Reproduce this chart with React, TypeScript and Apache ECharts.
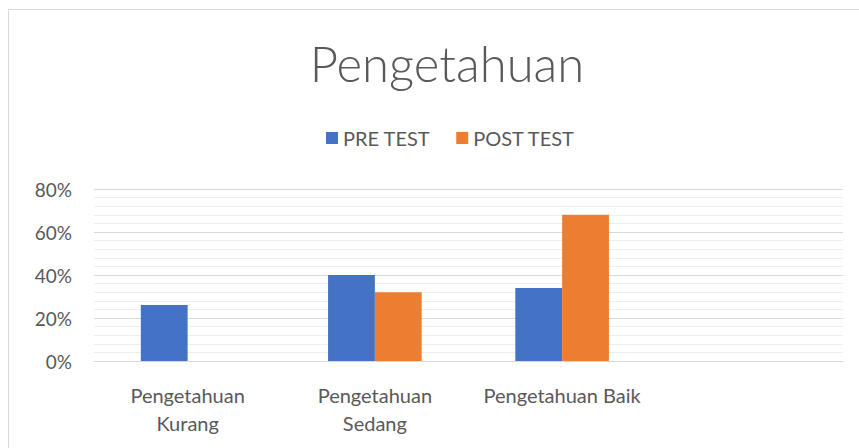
import React, { useEffect, useRef } from "react";
import * as echarts from "echarts";

const categories = ["Pengetahuan\nKurang", "Pengetahuan\nSedang", "Pengetahuan Baik", ""];
const preTest = [26, 40, 34, null];
const postTest = [0, 32, 68, null];
const seriesNames = ["PRE TEST", "POST TEST"];
const chartTitle = "Pengetahuan";

const FONT = "Lato, 'Open Sans', sans-serif";
const TXT = "#595959";

export default function App() {
  const ref = useRef<HTMLDivElement>(null);
  useEffect(() => {
    document.body.style.margin = "0";
    const chart = echarts.init(ref.current!, undefined, { renderer: "svg" });
    chart.setOption({
      animation: false,
      backgroundColor: "#ffffff",
      textStyle: { fontFamily: FONT },
      graphic: [
        {
          type: "rect",
          shape: { x: 8.5, y: 9.5, width: 900, height: 500 },
          style: { fill: "none", stroke: "#d9d9d9", lineWidth: 1 },
          silent: true,
        },
      ],
      title: {
        text: chartTitle,
        left: 442,
        textAlign: "center",
        top: 33,
        textStyle: { fontFamily: FONT, fontSize: 49, fontWeight: 300, color: TXT },
      },
      legend: {
        left: 321,
        top: 123,
        itemWidth: 12,
        itemHeight: 12,
        itemGap: 26,
        icon: "rect",
        textStyle: { fontFamily: FONT, fontSize: 20, color: TXT },
        data: seriesNames,
      },
      grid: { left: 94, right: 16, top: 189, bottom: 87, containLabel: false },
      xAxis: {
        type: "category",
        data: categories,
        axisLine: { show: true, lineStyle: { color: "#d9d9d9", width: 1 } },
        axisTick: { show: false },
        axisLabel: {
          fontFamily: FONT,
          fontSize: 20,
          color: TXT,
          margin: 20,
          lineHeight: 28,
          interval: 0,
        },
      },
      yAxis: {
        type: "value",
        min: 0,
        max: 80,
        interval: 20,
        axisLine: { show: false },
        axisTick: { show: false },
        axisLabel: {
          formatter: "{value}%",
          fontFamily: FONT,
          fontSize: 19,
          color: TXT,
          margin: 22,
        },
        splitLine: { show: true, lineStyle: { color: "#d9d9d9", width: 1 } },
        minorTick: { show: false, splitNumber: 5 },
        minorSplitLine: { show: true, lineStyle: { color: "#eeeeee", width: 1 } },
      },
      series: [
        {
          name: seriesNames[0],
          type: "bar",
          data: preTest,
          itemStyle: { color: "#4472C4" },
          barGap: "0%",
          barCategoryGap: "50%",
        },
        {
          name: seriesNames[1],
          type: "bar",
          data: postTest,
          itemStyle: { color: "#ED7D31" },
          barGap: "0%",
          barCategoryGap: "50%",
        },
      ],
    });
    return () => chart.dispose();
  }, []);
  return <div ref={ref} style={{ width: 859, height: 448 }} />;
}
